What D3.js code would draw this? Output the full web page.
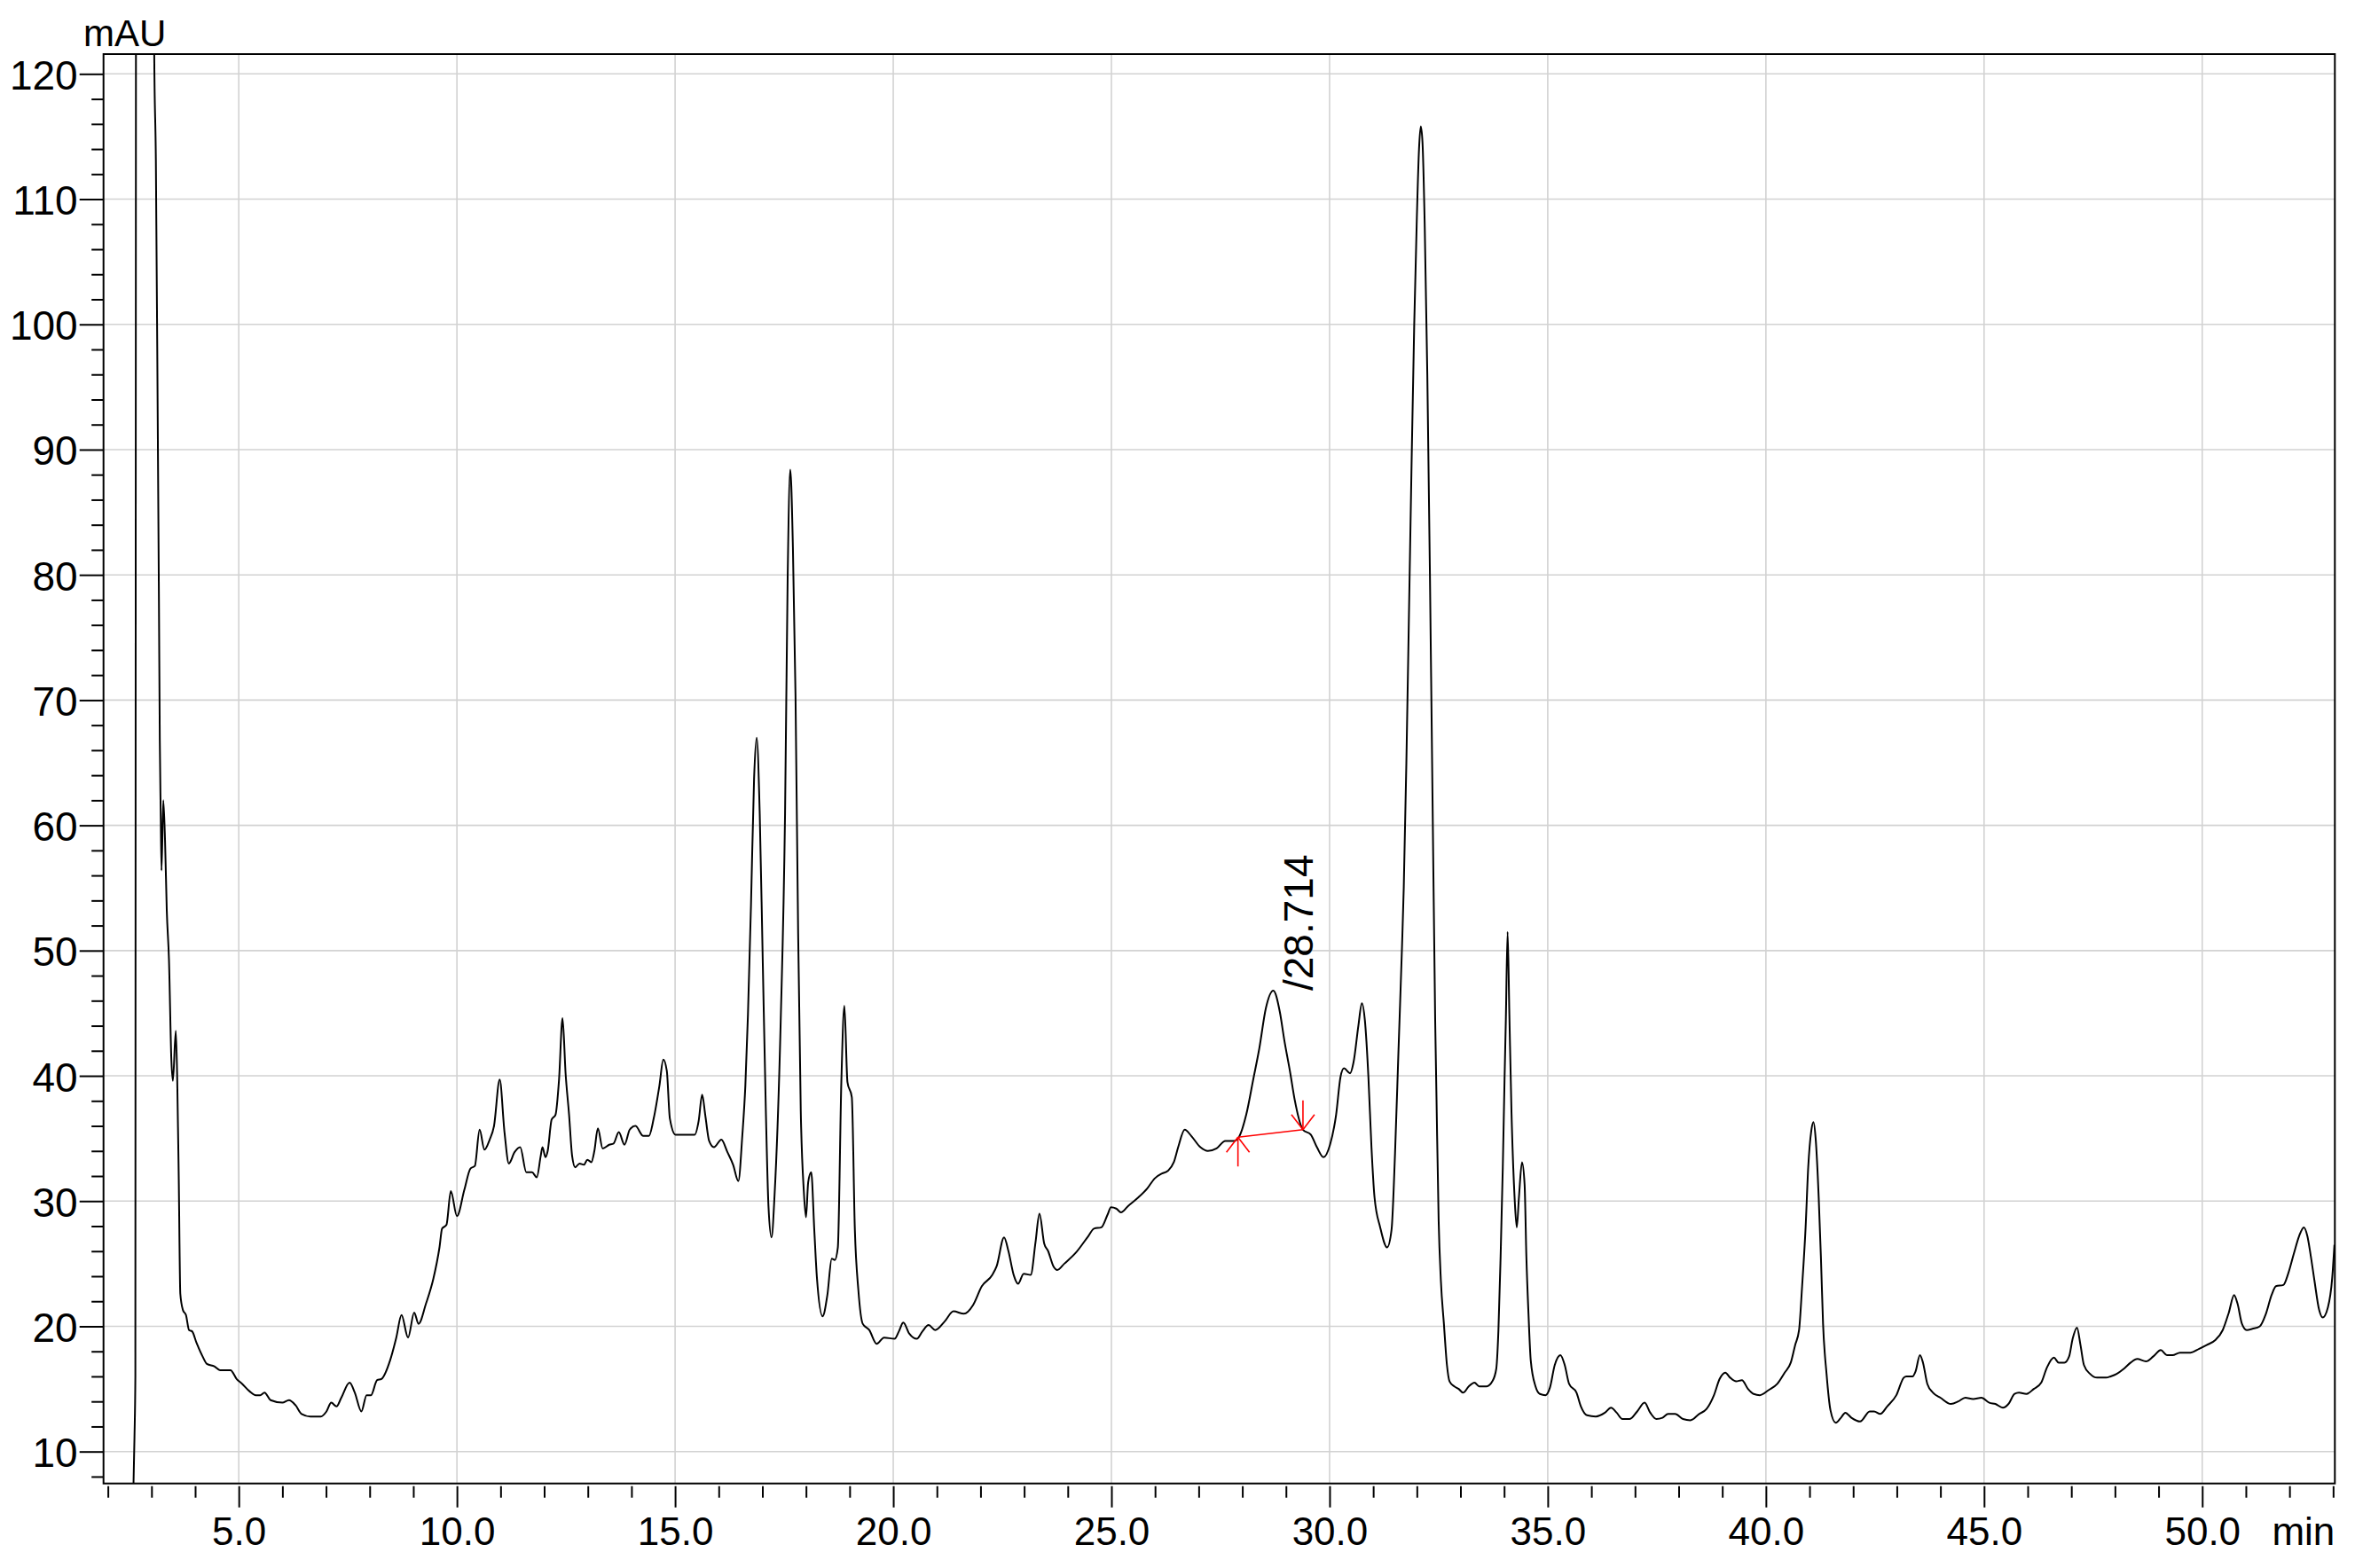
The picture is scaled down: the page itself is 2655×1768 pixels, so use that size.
<!DOCTYPE html>
<html>
<head>
<meta charset="utf-8">
<script src="https://cdn.jsdelivr.net/npm/d3@7"></script>
<style>
	body { margin: 0; background: #fff; }
	svg { display: block; }
	.grid line { stroke: #d2d2d2; stroke-width: 1.6; }
	.axis text { font-family: Arial, 'Liberation Sans', sans-serif; fill: #000; }
	.axis line { stroke: #000; stroke-width: 2; }
</style>
</head>
<body>
<div id="chart"></div>
<script>
// Retention time (min) and detector signal (mAU)
const timeMin = [
	2.585, 2.61, 2.63, 2.645, 3.04, 3.063, 3.10, 3.144, 3.17, 3.19, 3.21, 3.23, 3.27, 3.31, 3.35, 3.40, 3.455, 3.49, 3.557, 3.59,
	3.625, 3.66, 3.72, 3.79, 3.86, 3.93, 4.03, 4.17, 4.27, 4.44, 4.57, 4.81, 4.95, 5.08, 5.25, 5.39, 5.49, 5.59, 5.73, 6.00,
	6.15, 6.30, 6.44, 6.64, 6.88, 7.01, 7.12, 7.24, 7.35, 7.54, 7.66, 7.81, 7.93, 8.03, 8.17, 8.27, 8.47, 8.61, 8.73, 8.88,
	9.02, 9.12, 9.29, 9.46, 9.60, 9.66, 9.76, 9.86, 10.00, 10.17, 10.31, 10.41, 10.52, 10.63, 10.75, 10.85, 10.98, 11.09, 11.19, 11.32,
	11.45, 11.59, 11.72, 11.83, 11.92, 11.96, 12.03, 12.08, 12.17, 12.26, 12.34, 12.42, 12.49, 12.57, 12.64, 12.71, 12.81, 12.91, 12.99, 13.08,
	13.15, 13.23, 13.34, 13.49, 13.59, 13.71, 13.84, 13.96, 14.09, 14.27, 14.40, 14.51, 14.64, 14.73, 14.81, 14.88, 15.01, 15.25, 15.45, 15.54,
	15.62, 15.69, 15.78, 15.89, 16.06, 16.20, 16.33, 16.45, 16.54, 16.61, 16.67, 16.74, 16.81, 16.87, 16.94, 17.01, 17.08, 17.14, 17.21, 17.28,
	17.42, 17.52, 17.58, 17.64, 17.70, 17.76, 17.82, 17.88, 17.95, 18.00, 18.05, 18.12, 18.19, 18.25, 18.38, 18.49, 18.59, 18.66, 18.73, 18.81,
	18.88, 18.95, 19.05, 19.12, 19.20, 19.30, 19.45, 19.62, 19.79, 20.03, 20.13, 20.23, 20.37, 20.54, 20.67, 20.81, 20.96, 21.18, 21.38, 21.62,
	21.83, 22.03, 22.27, 22.37, 22.54, 22.64, 22.76, 22.86, 22.99, 23.15, 23.26, 23.35, 23.46, 23.55, 23.67, 23.76, 23.92, 24.19, 24.47, 24.60,
	24.77, 24.91, 24.99, 25.11, 25.22, 25.38, 25.62, 25.82, 25.99, 26.16, 26.29, 26.43, 26.53, 26.68, 26.83, 27.04, 27.21, 27.41, 27.61, 27.81,
	27.92, 28.09, 28.25, 28.39, 28.54, 28.71, 28.86, 28.96, 29.10, 29.20, 29.39, 29.57, 29.71, 29.86, 30.01, 30.15, 30.25, 30.33, 30.47, 30.55,
	30.66, 30.74, 30.81, 30.89, 30.96, 31.03, 31.16, 31.32, 31.42, 31.50, 31.58, 31.66, 31.70, 31.76, 31.82, 31.88, 31.94, 32.00, 32.05, 32.09,
	32.13, 32.18, 32.24, 32.30, 32.36, 32.42, 32.45, 32.50, 32.55, 32.62, 32.69, 32.75, 32.86, 32.96, 33.06, 33.19, 33.32, 33.43, 33.60, 33.73,
	33.82, 33.87, 33.92, 33.97, 34.01, 34.04, 34.08, 34.12, 34.17, 34.24, 34.29, 34.34, 34.41, 34.47, 34.51, 34.56, 34.61, 34.72, 34.82, 34.95,
	35.05, 35.16, 35.29, 35.39, 35.49, 35.66, 35.76, 35.90, 36.10, 36.31, 36.45, 36.58, 36.71, 36.88, 37.05, 37.22, 37.35, 37.49, 37.63, 37.76,
	37.92, 38.10, 38.27, 38.47, 38.64, 38.81, 38.94, 39.07, 39.18, 39.32, 39.45, 39.59, 39.72, 39.86, 40.06, 40.26, 40.43, 40.57, 40.67, 40.76,
	40.83, 40.91, 40.97, 41.04, 41.09, 41.14, 41.21, 41.26, 41.31, 41.39, 41.48, 41.60, 41.72, 41.82, 41.96, 42.16, 42.38, 42.48, 42.62, 42.78,
	42.99, 43.16, 43.22, 43.36, 43.43, 43.53, 43.60, 43.70, 43.83, 44.00, 44.24, 44.41, 44.57, 44.75, 44.94, 45.12, 45.26, 45.43, 45.56, 45.70,
	45.80, 45.97, 46.14, 46.31, 46.44, 46.60, 46.71, 46.84, 46.95, 47.03, 47.13, 47.21, 47.29, 47.43, 47.59, 47.80, 47.90, 48.04, 48.20, 48.36,
	48.51, 48.71, 48.88, 49.05, 49.19, 49.32, 49.49, 49.73, 49.93, 50.10, 50.30, 50.47, 50.61, 50.73, 50.81, 50.91, 51.02, 51.15, 51.32, 51.46,
	51.59, 51.69, 51.86, 51.97, 52.10, 52.22, 52.33, 52.41, 52.48, 52.57, 52.68, 52.76, 52.88, 52.98, 53.03
];
const signalMAU = [
	7.0, 11.2, 16.0, 135, 135, 121.4, 113.1, 91.6, 78.0, 66.8, 61.2, 56.4, 62.0, 58.8, 53.2, 49.3, 41.3, 39.6, 43.6, 39.6,
	31.7, 22.6, 21.3, 20.9, 19.7, 19.6, 18.7, 17.6, 17.0, 16.8, 16.5, 16.5, 15.8, 15.4, 14.8, 14.5, 14.5, 14.7, 14.1, 13.9,
	14.1, 13.7, 13.0, 12.8, 12.8, 13.2, 13.9, 13.6, 14.3, 15.5, 14.7, 13.2, 14.5, 14.5, 15.7, 15.8, 17.3, 19.1, 20.9, 19.1,
	21.1, 20.2, 21.8, 23.8, 26.3, 27.8, 28.1, 30.8, 28.8, 30.9, 32.6, 32.8, 35.7, 34.1, 34.9, 36.0, 39.7, 35.5, 33.0, 33.9,
	34.3, 32.3, 32.3, 31.9, 33.6, 34.3, 33.5, 34.0, 36.5, 36.9, 39.7, 44.6, 40.2, 36.9, 33.6, 32.7, 33.0, 32.9, 33.3, 33.1,
	34.0, 35.8, 34.2, 34.5, 34.6, 35.5, 34.5, 35.7, 36.0, 35.2, 35.2, 36.6, 39.2, 41.3, 40.4, 36.6, 35.3, 35.3, 35.3, 36.4,
	38.5, 36.9, 34.8, 34.3, 34.9, 33.9, 32.9, 31.6, 35.2, 39.2, 44.9, 53.7, 63.7, 67.0, 60.9, 49.0, 37.2, 29.6, 27.1, 30.5,
	44.3, 60.9, 79.8, 88.4, 82.2, 70.3, 51.4, 37.2, 30.8, 28.7, 31.5, 32.3, 27.7, 23.9, 20.8, 22.5, 25.4, 25.3, 26.3, 39.5,
	45.6, 39.5, 38.3, 27.7, 22.9, 20.2, 19.7, 18.6, 19.1, 19.0, 19.6, 20.3, 19.4, 19.0, 19.6, 20.1, 19.7, 20.4, 21.2, 21.0,
	21.7, 23.2, 24.1, 24.8, 27.1, 26.0, 24.1, 23.4, 24.2, 24.1, 26.7, 29.0, 26.6, 26.0, 24.8, 24.5, 25.0, 25.9, 27.2, 27.8,
	27.9, 28.9, 29.5, 29.4, 29.1, 29.6, 30.3, 31.0, 31.8, 32.2, 32.4, 33.1, 34.3, 35.7, 35.2, 34.3, 34.0, 34.2, 34.8, 34.8,
	35.1, 36.9, 39.7, 42.2, 45.4, 46.8, 45.1, 42.9, 40.2, 38.1, 35.7, 35.3, 34.3, 33.5, 34.5, 36.9, 39.9, 40.6, 40.2, 41.1,
	44.0, 45.8, 44.4, 39.9, 34.3, 30.3, 27.9, 26.3, 27.7, 33.8, 42.1, 50.3, 55.0, 65.0, 77.0, 89.0, 100.0, 108.5, 114.0, 115.8,
	114.5, 108.0, 96.0, 80.0, 62.0, 44.5, 38.3, 28.4, 23.7, 20.2, 16.9, 15.6, 15.2, 15.0, 14.7, 15.2, 15.5, 15.2, 15.2, 15.6,
	16.6, 19.7, 25.6, 32.7, 39.7, 44.5, 51.5, 45.0, 37.0, 30.3, 27.9, 30.3, 33.1, 31.3, 25.6, 20.9, 17.3, 15.2, 14.6, 14.5,
	15.1, 16.9, 17.7, 16.9, 15.4, 14.7, 13.6, 12.9, 12.8, 13.1, 13.5, 13.1, 12.6, 12.6, 13.2, 13.9, 13.1, 12.6, 12.7, 13.0,
	13.0, 12.6, 12.5, 13.0, 13.4, 14.5, 15.8, 16.3, 15.9, 15.6, 15.7, 15.0, 14.6, 14.5, 14.9, 15.4, 16.3, 17.1, 18.5, 19.7,
	23.2, 27.9, 32.7, 35.6, 36.3, 35.0, 30.3, 25.6, 20.2, 16.2, 13.3, 12.3, 12.7, 13.1, 12.7, 12.4, 13.2, 13.2, 13.0, 13.6,
	14.5, 15.9, 16.0, 16.0, 16.4, 17.7, 17.1, 15.4, 14.7, 14.3, 13.8, 14.0, 14.3, 14.2, 14.3, 13.9, 13.8, 13.5, 13.8, 14.6,
	14.7, 14.6, 15.0, 15.5, 16.7, 17.5, 17.1, 17.1, 17.6, 19.0, 19.9, 18.5, 16.9, 16.2, 15.9, 15.9, 16.0, 16.2, 16.6, 17.1,
	17.4, 17.2, 17.6, 18.1, 17.7, 17.7, 17.9, 17.9, 18.2, 18.5, 18.9, 19.7, 21.1, 22.5, 21.8, 20.2, 19.7, 19.8, 20.0, 21.0,
	22.5, 23.2, 23.3, 24.2, 25.8, 27.2, 27.9, 27.2, 25.8, 23.7, 21.3, 20.7, 21.5, 23.9, 26.5
];

// Axis ranges and ticks
const xDomain = [1.9, 53.04];
const yDomain = [7.45, 121.58];
const xMajorTicks = [5, 10, 15, 20, 25, 30, 35, 40, 45, 50];
const xMinorTicks = d3.range(2, 54, 1).filter((t) => t % 5 !== 0);
const yMajorTicks = [10, 20, 30, 40, 50, 60, 70, 80, 90, 100, 110, 120];
const yMinorTicks = d3.range(8, 121, 2).filter((v) => v % 10 !== 0);

// Integrated peak: baseline start/end and retention time label
const baseStart = [27.90, 35.1];
const baseEnd = [29.39, 35.7];
const peakRT = 28.714;
const peakHeight = 46.8;

const width = 2655;
const height = 1768;
const margin = {top: 61, right: 22.7, bottom: 95.3, left: 116.7};
const plotW = width - margin.left - margin.right;
const plotH = height - margin.top - margin.bottom;

const svg = d3.select('#chart').append('svg').attr('width', width).attr('height', height);

const x = d3.scaleLinear().domain(xDomain).range([margin.left, margin.left + plotW]);
const y = d3.scaleLinear().domain(yDomain).range([margin.top + plotH, margin.top]);

svg.append('defs')
	.append('clipPath')
	.attr('id', 'plot-clip')
	.append('rect')
	.attr('x', margin.left)
	.attr('y', margin.top)
	.attr('width', plotW)
	.attr('height', plotH);

// Grid
const grid = svg.append('g').attr('class', 'grid');
grid.selectAll('.vgrid')
	.data(xMajorTicks)
	.enter()
	.append('line')
	.attr('x1', (d) => x(d))
	.attr('x2', (d) => x(d))
	.attr('y1', margin.top)
	.attr('y2', margin.top + plotH);
grid.selectAll('.hgrid')
	.data(yMajorTicks)
	.enter()
	.append('line')
	.attr('x1', margin.left)
	.attr('x2', margin.left + plotW)
	.attr('y1', (d) => y(d))
	.attr('y2', (d) => y(d));

// Bottom axis: minor ticks, then major ticks with labels (3px gap under the frame)
const xAxisY = margin.top + plotH + 3;
svg.append('g')
	.attr('class', 'axis')
	.attr('transform', `translate(0,${xAxisY})`)
	.call(d3.axisBottom(x).tickValues(xMinorTicks).tickSize(13).tickSizeOuter(0).tickFormat(''))
	.call((g) => g.select('.domain').remove());

const xAxis = svg.append('g')
	.attr('class', 'axis')
	.attr('transform', `translate(0,${xAxisY})`)
	.call(d3.axisBottom(x).tickValues(xMajorTicks).tickSize(24).tickSizeOuter(0).tickFormat(d3.format('.1f')))
	.call((g) => g.select('.domain').remove());
xAxis.selectAll('text')
	.attr('y', 66)
	.attr('dy', null)
	.style('font-size', '44px');

// Left axis
svg.append('g')
	.attr('class', 'axis')
	.attr('transform', `translate(${margin.left},0)`)
	.call(d3.axisLeft(y).tickValues(yMinorTicks).tickSize(13.5).tickSizeOuter(0).tickFormat(''))
	.call((g) => g.select('.domain').remove());

const yAxis = svg.append('g')
	.attr('class', 'axis')
	.attr('transform', `translate(${margin.left},0)`)
	.call(d3.axisLeft(y).tickValues(yMajorTicks).tickSize(27).tickSizeOuter(0).tickPadding(2))
	.call((g) => g.select('.domain').remove());
yAxis.selectAll('text')
	.attr('dy', '17px')
	.style('font-size', '46px');

// Unit labels
svg.append('text')
	.attr('class', 'axis')
	.attr('x', 94)
	.attr('y', 52)
	.style('font-family', "Arial, 'Liberation Sans', sans-serif")
	.style('font-size', '42px')
	.text('mAU');

svg.append('text')
	.attr('x', margin.left + plotW)
	.attr('y', xAxisY + 66)
	.attr('text-anchor', 'end')
	.style('font-family', "Arial, 'Liberation Sans', sans-serif")
	.style('font-size', '44px')
	.text('min');

// Trace
const points = timeMin.map((t, i) => [t, signalMAU[i]]);
const line = d3
	.line()
	.x((d) => x(d[0]))
	.y((d) => y(d[1]))
	.curve(d3.curveMonotoneX);

svg.append('path')
	.datum(points)
	.attr('clip-path', 'url(#plot-clip)')
	.attr('fill', 'none')
	.attr('stroke', '#000')
	.attr('stroke-width', 2)
	.attr('stroke-linejoin', 'round')
	.attr('d', line);

// Peak baseline with start / end markers
const red = '#ff0000';
const ann = svg.append('g').attr('stroke', red).attr('stroke-width', 1.6).attr('fill', 'none');
ann.append('line')
	.attr('x1', x(baseStart[0]))
	.attr('y1', y(baseStart[1]))
	.attr('x2', x(baseEnd[0]))
	.attr('y2', y(baseEnd[1]));

function marker(px, py, dir) {
	// dir = 1 -> arrow pointing up (start), -1 -> pointing down (end)
	ann.append('line').attr('x1', px).attr('y1', py).attr('x2', px).attr('y2', py + dir * 33);
	ann.append('line').attr('x1', px).attr('y1', py).attr('x2', px - 13).attr('y2', py + dir * 17);
	ann.append('line').attr('x1', px).attr('y1', py).attr('x2', px + 13).attr('y2', py + dir * 17);
}
marker(x(baseStart[0]), y(baseStart[1]), 1);
marker(x(baseEnd[0]), y(baseEnd[1]), -1);

// Retention time label, rotated
const lx = x(peakRT) + 44;
const ly = y(peakHeight);
svg.append('text')
	.attr('transform', `translate(${lx},${ly}) rotate(-90)`)
	.style('font-family', "Arial, 'Liberation Sans', sans-serif")
	.style('font-size', '46px')
	.text('/28.714');

// Frame
svg.append('rect')
	.attr('x', margin.left)
	.attr('y', margin.top)
	.attr('width', plotW)
	.attr('height', plotH)
	.attr('fill', 'none')
	.attr('stroke', '#000')
	.attr('stroke-width', 2);
</script>
</body>
</html>
